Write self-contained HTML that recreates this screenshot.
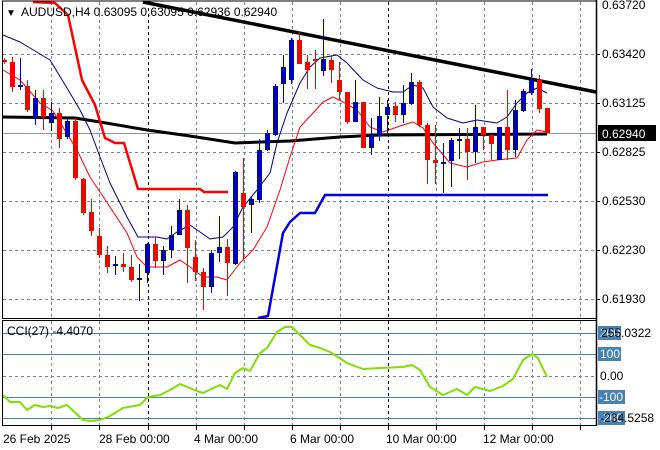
<!DOCTYPE html>
<html><head><meta charset="utf-8"><style>
html,body{margin:0;padding:0;background:#fff;}
svg{display:block;font-family:"Liberation Sans",sans-serif;}
</style></head><body>
<svg id="s" width="660" height="450" xmlns="http://www.w3.org/2000/svg">
<rect width="660" height="450" fill="#fff"/>
<g id="grid" stroke="#7a8694" stroke-dasharray="3,3" stroke-width="1"></g>
<g id="cci"></g>
<g id="main"></g>
<g fill="none" stroke="#000">
<line x1="2" y1="1" x2="596" y2="1" stroke-width="1"/>
<line x1="2.5" y1="1" x2="2.5" y2="318" />
<line x1="2" y1="318.5" x2="596" y2="318.5"/>
<line x1="2" y1="320.5" x2="596" y2="320.5"/>
<line x1="2.5" y1="320" x2="2.5" y2="426"/>
<line x1="2" y1="425.5" x2="596" y2="425.5"/>
<line x1="596.5" y1="0" x2="596.5" y2="426" stroke-width="1.5"/>
</g>
<g font-size="12" fill="#000" id="lbl">
<text x="602" y="9">0.63720</text>
<text x="602" y="58">0.63420</text>
<text x="602" y="107">0.63125</text>
<text x="602" y="156">0.62825</text>
<text x="602" y="205">0.62530</text>
<text x="602" y="254">0.62230</text>
<text x="602" y="303">0.61930</text>
<rect x="598" y="125" width="58" height="16" fill="#000"/>
<text x="602" y="138" fill="#fff">0.62940</text>
<rect x="598" y="326" width="23" height="14" fill="#4682b4"/>
<text x="600" y="337" fill="#fff">200</text>
<rect x="598" y="347" width="23" height="14" fill="#4682b4"/>
<text x="600" y="358" fill="#fff">100</text>
<rect x="598" y="390" width="27" height="14" fill="#4682b4"/>
<text x="599" y="401" fill="#fff">-100</text>
<rect x="598" y="411" width="27" height="14" fill="#4682b4"/>
<text x="599" y="422" fill="#fff">-200</text>
<text x="601" y="337">255.0322</text>
<text x="600" y="380">0.00</text>
<text x="600" y="422">-234.5258</text>
<text x="3" y="443">26 Feb 2025</text>
<text x="99" y="443">28 Feb 00:00</text>
<text x="194" y="443">4 Mar 00:00</text>
<text x="290" y="443">6 Mar 00:00</text>
<text x="386" y="443">10 Mar 00:00</text>
<text x="483" y="443">12 Mar 00:00</text>
<text x="7" y="335">CCI(27) -4.4070</text>
<text x="6" y="16" font-size="10">▼</text>
<text x="21" y="16">AUDUSD,H4  0.63095 0.63095 0.62936 0.62940</text>
</g>
</svg>
<script>
var NS="http://www.w3.org/2000/svg";
function el(p,t,a){var e=document.createElementNS(NS,t);for(var k in a)e.setAttribute(k,a[k]);p.appendChild(e);return e;}
var g=document.getElementById('grid'),m=document.getElementById('main'),c=document.getElementById('cci');
var xs=[51,99,148,196,244,292,340,388,436,484,532,580];
xs.forEach(function(x){var blk=(x==148||x==388);
 el(g,'line',{x1:x+.5,y1:2,x2:x+.5,y2:318,stroke:blk?'#000':'#7a8694'});
 el(g,'line',{x1:x+.5,y1:321,x2:x+.5,y2:425,stroke:blk?'#000':'#7a8694'});
 el(g,'line',{x1:x+.5,y1:426,x2:x+.5,y2:430,stroke:'#000','stroke-dasharray':'none'});});
[54,103,152,201,250,299,376].forEach(function(y){el(g,'line',{x1:3,y1:y+.5,x2:596,y2:y+.5});});
[333,354,397,418].forEach(function(y){el(c,'line',{x1:3,y1:y+.5,x2:596,y2:y+.5,stroke:'#4682b4'});});
[54,103,152,201,250,299].forEach(function(y){el(g,'line',{x1:596,y1:y+.5,x2:600,y2:y+.5,stroke:'#000','stroke-dasharray':'none'});});
el(m,'line',{x1:3,y1:133.5,x2:596,y2:133.5,stroke:'#8c96a0'});
function pl(pts,col,w){el(m,'polyline',{points:pts,fill:'none',stroke:col,'stroke-width':w,'stroke-linejoin':'round'});}
pl("3,117 75,118 100,122 147,130 190,136 235,143 290,141 340,137 380,135 547,134","#000",3);
pl("143,2 596,92","#000",3.5);
pl("33,2 55,3 68,15 82,80 95,105 105,138 115,143 124,143 138,189 200,189 204,192 228,192","#f00",2.5);
pl("258,318 268,316 283,233 290,222 300,213 315,213 325,195 548,195","#0000e0",2.5);
pl("3,35 20,42 50,60 67,88 80,110 90,130 100,157 110,183 127,217 138,237 157,237 167,239 177,232 190,225 210,239 223,237 233,227 243,207 257,190 270,173 277,143 287,113 300,83 310,67 320,58 337,55 347,63 363,80 377,88 393,92 403,92 413,85 423,88 433,107 447,118 463,123 477,120 497,123 507,117 517,103 527,93 537,88 547,93","#000080",1);
pl("3,70 20,80 40,103 53,111 77,150 90,177 110,207 127,233 137,257 147,267 167,267 180,260 190,267 203,277 217,277 227,280 240,263 253,250 267,227 280,190 290,157 300,127 313,113 323,102 333,97 343,102 357,110 370,127 383,132 403,125 413,122 423,128 433,143 450,163 467,167 483,162 497,160 517,158 527,140 537,130 547,132","#f00",1);
var R='#f00',B='#0000b4';
var cd=[[4,60,62,58,64,R],[12,62,87,57,92,R],[20,85,87,58,90,B],[27,86,110,80,112,R],[35,98,117,90,125,B],[43,98,117,90,130,R],[51,113,123,102,131,B],[59,113,139,108,148,R],[67,121,137,118,139,B],[75,121,178,118,180,R],[83,179,213,178,215,R],[91,212,231,199,236,R],[99,236,255,228,258,R],[107,255,267,246,273,R],[115,264,266,256,275,B],[123,264,267,253,272,R],[131,267,280,255,282,R],[139,278,280,264,301,B],[147,244,273,243,283,B],[155,244,261,237,268,R],[163,250,261,246,275,B],[171,235,250,226,258,B],[179,210,235,199,235,B],[187,210,248,205,283,R],[195,257,272,240,281,R],[203,272,287,268,310,R],[211,253,287,250,293,B],[219,247,253,216,262,B],[227,247,263,239,296,R],[235,172,264,171,265,B],[243,193,207,158,260,R],[251,199,205,196,233,B],[259,150,200,139,203,B],[267,133,150,130,151,B],[275,86,135,84,136,B],[283,67,84,55,103,B],[291,40,80,38,84,B],[299,40,64,31,64,R],[307,62,70,55,89,R],[315,59,61,50,89,R],[323,59,71,19,76,B],[331,60,70,55,83,R],[339,80,92,62,100,R],[347,92,122,92,124,R],[355,102,122,80,122,B],[363,102,148,102,148,R],[371,135,148,118,155,B],[379,116,136,97,141,B],[387,107,115,100,135,B],[395,106,115,102,122,R],[403,103,115,85,123,B],[411,82,104,73,105,B],[419,82,125,80,127,R],[427,125,160,123,184,R],[435,160,163,125,184,R],[443,162,164,143,193,B],[451,140,161,138,187,B],[459,139,141,128,159,B],[467,139,152,128,180,R],[475,127,152,105,163,B],[483,127,135,127,150,R],[491,135,144,135,160,R],[499,127,160,127,160,B],[507,127,150,90,160,R],[515,110,150,100,157,B],[523,91,111,89,112,B],[531,80,93,69,95,B],[539,80,109,75,113,R],[547,108,133,108,133,R]];
cd.forEach(function(d){var x=d[0];el(m,'line',{x1:x+.5,y1:d[3],x2:x+.5,y2:d[4],stroke:d[5]});
 el(m,'rect',{x:x-2,y:d[1],width:5,height:Math.max(1,d[2]-d[1]),fill:d[5]});});
el(c,'polyline',{fill:'none',stroke:'#80e000','stroke-width':2,'stroke-linejoin':'round',points:"3,395 10,402 20,402 27,410 35,405 43,407 50,406 58,408 67,405 83,420 90,421 100,420 110,416 123,408 140,405 148,397 160,395 170,390 180,384 197,391 203,393 220,385 227,389 235,373 243,368 250,371 260,353 267,348 277,332 285,327 292,327 300,335 310,345 320,348 330,352 347,363 363,369 380,368 403,367 412,365 420,370 430,387 443,395 457,389 467,395 475,387 490,391 503,386 513,379 523,360 532,354 538,358 547,377"});
</script>
</body></html>
